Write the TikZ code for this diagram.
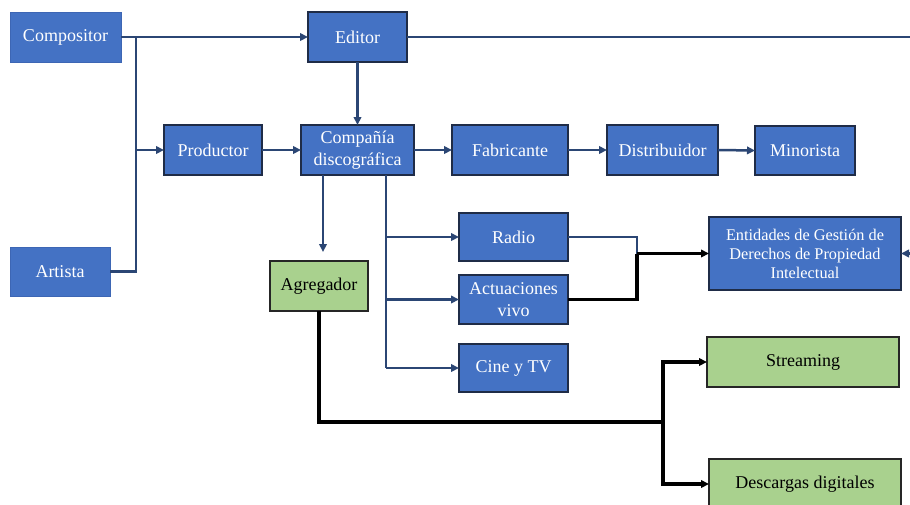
\documentclass[tikz,border=0pt]{standalone}
\usepackage{fontspec}
\setmainfont{Liberation Serif}
\usetikzlibrary{arrows.meta}
\definecolor{boxblue}{HTML}{4472C4}
\definecolor{edgeblue}{HTML}{3D66B4}
\definecolor{navy}{HTML}{1F2C47}
\definecolor{linkblue}{HTML}{2B4674}
\definecolor{boxgreen}{HTML}{A9D18E}
\tikzset{
  bluebox/.style={draw=navy, line width=1.8pt, fill=boxblue, text=white,
    inner sep=0pt, outer sep=0pt, align=center,
    font=\fontsize{18}{22}\selectfont},
  plainbox/.style={bluebox, draw=edgeblue, line width=0.6pt},
  greenbox/.style={bluebox, fill=boxgreen, text=black, draw=black!85},
  link/.style={draw=linkblue, line width=2.5pt},
  blk/.style={draw=black, line width=3.2pt},
  tip/.style={-{Triangle[length=8pt,width=7.5pt]}},
}
\begin{document}
\begin{tikzpicture}[x=1pt, y=-1pt]
\useasboundingbox (0,0) rectangle (910,504);
\clip (0,0) rectangle (910,504);
\fill[white] (0,0) rectangle (910,504);

% boxes
\node[plainbox, minimum width=111pt, minimum height=50pt] (comp) at (65.5,37) {Compositor};
\node[plainbox, minimum width=100pt, minimum height=49pt] (artista) at (60,271.5) {Artista};
\node[bluebox, minimum width=99pt, minimum height=50pt] (editor) at (357.5,37) {Editor};
\node[bluebox, minimum width=98pt, minimum height=50pt] (prod) at (213,150) {Productor};
\node[bluebox, minimum width=113pt, minimum height=50pt] (disco) at (357.5,150) {Compañía\\discográfica};
\node[bluebox, minimum width=116pt, minimum height=50pt] (fabr) at (510,150) {Fabricante};
\node[bluebox, minimum width=111pt, minimum height=50pt] (dist) at (662.5,150) {Distribuidor};
\node[bluebox, minimum width=100pt, minimum height=49pt] (mino) at (805,150.5) {Minorista};
\node[bluebox, minimum width=109pt, minimum height=48pt] (radio) at (513.5,237) {Radio};
\node[bluebox, minimum width=109pt, minimum height=49pt] (actu) at (513.5,299.5) {Actuaciones\\vivo};
\node[bluebox, minimum width=109pt, minimum height=48pt] (cine) at (513.5,368) {Cine y TV};
\node[bluebox, minimum width=192pt, minimum height=73pt,
  font=\fontsize{16.3}{19}\selectfont] (entid) at (805,253.5)
  {Entidades de Gestión de\\Derechos de Propiedad\\Intelectual};
\node[greenbox, minimum width=98pt, minimum height=50pt] (agreg) at (319,286) {Agregador};
\node[greenbox, minimum width=192pt, minimum height=50pt] (stream) at (803,362) {Streaming};
\node[greenbox, minimum width=192pt, minimum height=50pt] (desc) at (805,484) {Descargas digitales};

% composer and artist feed the publisher and the producer
\coordinate (split) at (136,37);
\draw[link, tip] (comp.east) -- (editor.west);
\draw[link] (split) |- (artista.east);
\draw[link, tip] (split |- prod.west) -- (prod.west);

% publisher to the record company and round to the rights bodies
\draw[link, tip] (editor.south) -- (disco.north);
\coordinate (farright) at (930,37);
\draw[link, tip] (editor.east) -- (farright) |- (entid.east);

% production chain
\draw[link, tip] (prod.east) -- (disco.west);
\draw[link, tip] (disco.east) -- (fabr.west);
\draw[link, tip] (fabr.east) -- (dist.west);
\draw[link, tip] (dist.east) -- (mino.west);

% record company to the aggregator
\coordinate (aggdrop) at ([xshift=-34.5pt]disco.south);
\coordinate (aggend) at ([xshift=4pt, yshift=9pt]agreg.north);
\draw[link, tip] (aggdrop) -- (aggend);

% record company to the licensing channels
\coordinate (bus) at ([xshift=28.5pt]disco.south);
\draw[link] (bus) -- (bus |- cine.west);
\draw[link, tip] (bus |- radio.west) -- (radio.west);
\draw[link, tip] (bus |- actu.west) -- (actu.west);
\draw[link, tip] (bus |- cine.west) -- (cine.west);

% channels to the rights bodies
\coordinate (merge) at (637,253.5);
\draw[link] (radio.east) -| (merge);
\draw[blk] (actu.east) -| (merge);
\draw[blk, tip] (merge) -- (entid.west);

% aggregator to the digital outlets
\coordinate (fork) at (663,422);
\draw[blk] (agreg.south) |- (fork);
\draw[blk, tip] (fork) |- (stream.west);
\draw[blk, tip] (fork) |- (desc.west);
\end{tikzpicture}
\end{document}
